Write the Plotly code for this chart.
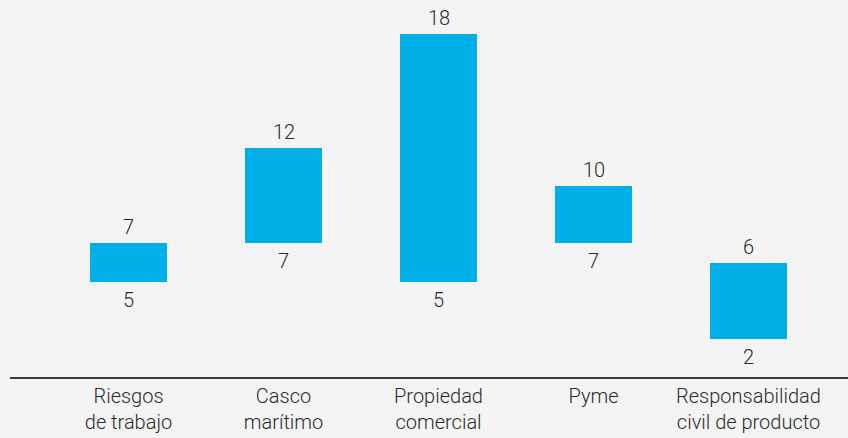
import plotly.graph_objects as go

categories = ["Riesgos<br>de trabajo", "Casco<br>marítimo", "Propiedad<br>comercial", "Pyme", "Responsabilidad<br>civil de producto"]
low_values = [5, 7, 5, 7, 2]
high_values = [7, 12, 18, 10, 6]

BG = "#f4f4f4"
BAR = "#00aee8"
TXT = "#2b2b2b"
FONT = "Roboto"

xs = list(range(len(categories)))
fig = go.Figure()
fig.add_trace(go.Bar(
    x=xs,
    y=[h - l for h, l in zip(high_values, low_values)],
    base=low_values,
    width=0.5,
    marker=dict(color=BAR, line=dict(width=0)),
    hoverinfo="skip",
))

annotations = []
for x, lo, hi in zip(xs, low_values, high_values):
    annotations.append(dict(x=x, y=hi, text=str(hi), showarrow=False, yanchor="bottom",
                            yshift=2, font=dict(family=FONT, size=20, color=TXT, weight=300)))
    annotations.append(dict(x=x, y=lo, text=str(lo), showarrow=False, yanchor="top",
                            yshift=-4, font=dict(family=FONT, size=20, color=TXT, weight=300)))

fig.update_layout(
    width=848, height=438,
    margin=dict(l=10, r=0, t=0, b=61, autoexpand=False),
    paper_bgcolor=BG, plot_bgcolor=BG,
    showlegend=False,
    bargap=0,
    annotations=annotations,
    xaxis=dict(
        range=[-0.5 - 41 / 155, 4.5 + 22 / 155],
        tickmode="array", tickvals=xs, ticktext=categories,
        showgrid=False, zeroline=False,
        showline=True, linecolor="#3a3a3a", linewidth=2,
        ticks="", ticklabelstandoff=0,
        tickfont=dict(family=FONT, size=20, color=TXT, weight=300),
    ),
    yaxis=dict(
        range=[0, 377 / 19.08],
        showgrid=False, zeroline=False, showticklabels=False, showline=False, ticks="",
    ),
)

fig.write_html("out.html", config={"displayModeBar": False},
               post_script="document.body.style.margin='0';document.body.style.background='#f4f4f4';")
